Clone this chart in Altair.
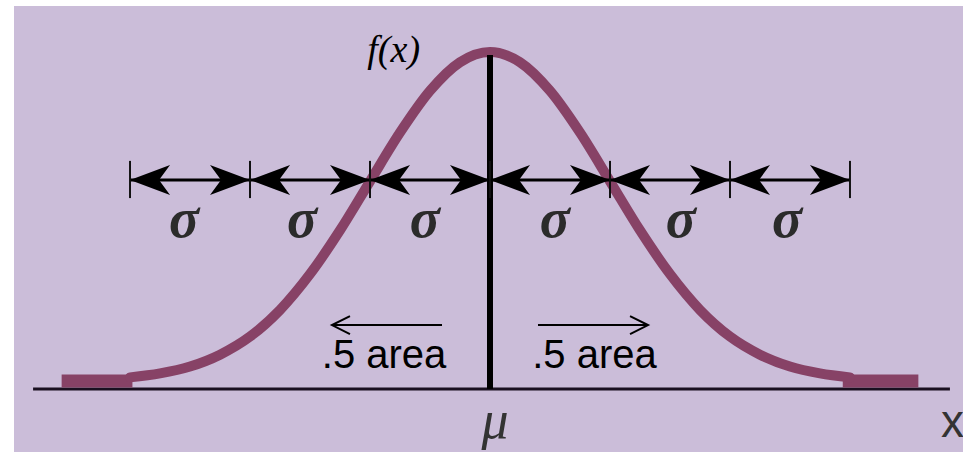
import altair as alt
import pandas as pd

# Normal density in sigma units (z) with height normalised to 1 at the mean
CURVE_Z = [-3.0, -2.75, -2.5, -2.25, -2.0, -1.75, -1.5, -1.25, -1.0, -0.75, -0.5, -0.25,
           0.0, 0.25, 0.5, 0.75, 1.0, 1.25, 1.5, 1.75, 2.0, 2.25, 2.5, 2.75, 3.0]
CURVE_F = [0.011, 0.023, 0.044, 0.080, 0.135, 0.216, 0.325, 0.458, 0.607, 0.755, 0.882, 0.969,
           1.0, 0.969, 0.882, 0.755, 0.607, 0.458, 0.325, 0.216, 0.135, 0.080, 0.044, 0.023, 0.011]

# flat tails beyond three sigma
TAIL_LEFT_Z = [-3.57, -2.98]
TAIL_RIGHT_Z = [2.94, 3.57]
TAIL_F = 0.0

# sigma ruler
SIGMA_BOUNDS = [-3, -2, -1, 0, 1, 2, 3]
SIGMA_LINE_F = 0.611
SIGMA_TICK_F = [0.556, 0.669]
SIGMA_LABEL_Z = [-2.55, -1.567, -0.542, 0.54, 1.59, 2.475]
SIGMA_LABEL_F = 0.438

# baseline axis and mean line
AXIS_Z = [-3.808, 3.833]
AXIS_F = -0.024
MEAN_TOP_F = 0.991

# half-area annotations
AREA_TEXT_Z = [-0.883, 0.871]
AREA_TEXT_F = 0.0395
AREA_ARROW_LEFT = [-1.317, -0.4]
AREA_ARROW_RIGHT = [0.4, 1.317]
AREA_ARROW_F = 0.170

BG = "#cbbdd9"
CURVE_COLOR = "#874266"

XS = alt.Scale(domain=[-3.967, 3.942], nice=False, zero=False)
YS = alt.Scale(domain=[-0.2158, 1.1398], nice=False, zero=False)


def X(field="z"):
    return alt.X(f"{field}:Q", scale=XS, axis=None)


def Y(field="f"):
    return alt.Y(f"{field}:Q", scale=YS, axis=None)


curve_df = pd.DataFrame({"z": CURVE_Z, "f": CURVE_F})
tails_df = pd.DataFrame({
    "z": TAIL_LEFT_Z + TAIL_RIGHT_Z,
    "f": [TAIL_F] * 4,
    "side": ["L", "L", "R", "R"],
})
axis_df = pd.DataFrame({"z": [AXIS_Z[0]], "z2": [AXIS_Z[1]], "f": [AXIS_F]})
mean_df = pd.DataFrame({"z": [0.0], "f": [AXIS_F], "f2": [MEAN_TOP_F]})
ruler_df = pd.DataFrame({"z": [SIGMA_BOUNDS[0]], "z2": [SIGMA_BOUNDS[-1]], "f": [SIGMA_LINE_F]})
ticks_df = pd.DataFrame({"z": SIGMA_BOUNDS,
                         "f": [SIGMA_TICK_F[0]] * len(SIGMA_BOUNDS),
                         "f2": [SIGMA_TICK_F[1]] * len(SIGMA_BOUNDS)})
starts_df = pd.DataFrame({"z": SIGMA_BOUNDS[:-1], "f": [SIGMA_LINE_F] * 6})
ends_df = pd.DataFrame({"z": SIGMA_BOUNDS[1:], "f": [SIGMA_LINE_F] * 6})
sigma_df = pd.DataFrame({"z": SIGMA_LABEL_Z, "f": [SIGMA_LABEL_F] * 6, "t": ["σ"] * 6})
area_df = pd.DataFrame({"z": AREA_TEXT_Z, "f": [AREA_TEXT_F] * 2, "t": [".5 area"] * 2})
arrows_df = pd.DataFrame({"z": [AREA_ARROW_LEFT[0], AREA_ARROW_RIGHT[0]],
                          "z2": [AREA_ARROW_LEFT[1], AREA_ARROW_RIGHT[1]],
                          "f": [AREA_ARROW_F] * 2})
left_head_df = pd.DataFrame({"z": [AREA_ARROW_LEFT[0]], "f": [AREA_ARROW_F]})
right_head_df = pd.DataFrame({"z": [AREA_ARROW_RIGHT[1]], "f": [AREA_ARROW_F]})
mu_df = pd.DataFrame({"z": [0.042], "f": [-0.173], "t": ["μ"]})
xlab_df = pd.DataFrame({"z": [3.758], "f": [-0.170], "t": ["x"]})
fx_df = pd.DataFrame({"z": [-0.583], "f": [0.9696], "t": ["f(x)"]})

ARROW_R = "M1,0 L-1,-0.75 L-0.45,0 L-1,0.75 Z"
ARROW_L = "M-1,0 L1,-0.75 L0.45,0 L1,0.75 Z"
OPEN_R = "M-1,-1 L1,0 L-1,1"
OPEN_L = "M1,-1 L-1,0 L1,1"

axis_line = alt.Chart(axis_df).mark_rule(color="#1a1020", strokeWidth=3).encode(
    x=X(), x2="z2:Q", y=Y())

tails = alt.Chart(tails_df).mark_line(color=CURVE_COLOR, strokeWidth=13, strokeCap="butt").encode(
    x=X(), y=Y(), detail="side:N")

curve = alt.Chart(curve_df).mark_line(
    color=CURVE_COLOR, strokeWidth=10, strokeCap="round", interpolate="monotone"
).encode(x=X(), y=Y())

mean_line = alt.Chart(mean_df).mark_rule(color="black", strokeWidth=6).encode(
    x=X(), y=Y(), y2="f2:Q")

ruler = alt.Chart(ruler_df).mark_rule(color="black", strokeWidth=3).encode(
    x=X(), x2="z2:Q", y=Y())

ticks = alt.Chart(ticks_df).mark_rule(color="#111", strokeWidth=2).encode(
    x=X(), y=Y(), y2="f2:Q")

heads_left = alt.Chart(starts_df).mark_point(
    shape=ARROW_L, size=1600, filled=True, color="black", opacity=1, xOffset=20
).encode(x=X(), y=Y())

heads_right = alt.Chart(ends_df).mark_point(
    shape=ARROW_R, size=1600, filled=True, color="black", opacity=1, xOffset=-20
).encode(x=X(), y=Y())

sigma_text = alt.Chart(sigma_df).mark_text(
    font="Liberation Serif", fontSize=56, fontStyle="italic", fontWeight="bold",
    color="#2b2b2b", align="center", baseline="alphabetic"
).encode(x=X(), y=Y(), text="t:N")

area_text = alt.Chart(area_df).mark_text(
    font="Liberation Sans", fontSize=40, color="black", align="center", baseline="alphabetic"
).encode(x=X(), y=Y(), text="t:N")

area_arrows = alt.Chart(arrows_df).mark_rule(color="black", strokeWidth=2).encode(
    x=X(), x2="z2:Q", y=Y())

area_head_l = alt.Chart(left_head_df).mark_point(
    shape=OPEN_L, size=324, filled=False, color="black", strokeWidth=2, opacity=1, xOffset=9
).encode(x=X(), y=Y())

area_head_r = alt.Chart(right_head_df).mark_point(
    shape=OPEN_R, size=324, filled=False, color="black", strokeWidth=2, opacity=1, xOffset=-9
).encode(x=X(), y=Y())

mu_text = alt.Chart(mu_df).mark_text(
    font="Liberation Serif", fontSize=54, fontStyle="italic", color="#333333",
    align="center", baseline="alphabetic"
).encode(x=X(), y=Y(), text="t:N")

x_text = alt.Chart(xlab_df).mark_text(
    font="Liberation Sans", fontSize=46, color="#333333", align="left", baseline="alphabetic"
).encode(x=X(), y=Y(), text="t:N")

fx_text = alt.Chart(fx_df).mark_text(
    font="Liberation Serif", fontSize=38, fontStyle="italic", color="black",
    align="right", baseline="alphabetic"
).encode(x=X(), y=Y(), text="t:N")

chart = alt.layer(
    axis_line, tails, curve, mean_line, ruler, ticks, heads_left, heads_right,
    sigma_text, area_arrows, area_head_l, area_head_r, area_text, mu_text, x_text, fx_text
).properties(
    width=949, height=446,
    padding={"left": 14, "top": 6, "right": 0, "bottom": 0},
    autosize="none", background="white"
).configure_view(fill=BG, stroke=None)

chart.save("out.html", embed_options={"renderer": "svg", "actions": False})
